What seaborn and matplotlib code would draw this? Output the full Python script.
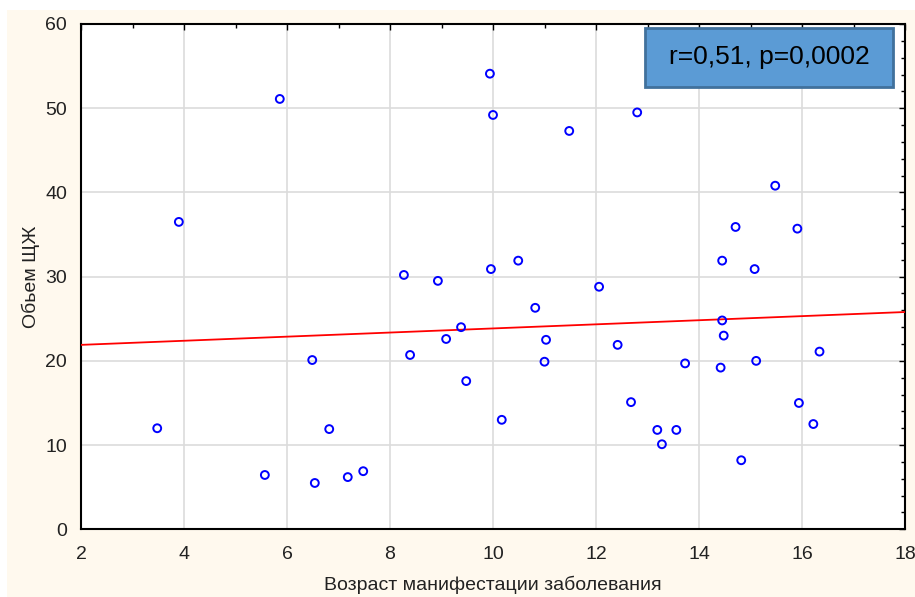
import seaborn as sns
import matplotlib.pyplot as plt
from matplotlib.patches import Rectangle
from matplotlib.ticker import MultipleLocator

# age of disease manifestation vs thyroid volume
age = [3.48, 3.90, 5.86, 5.57, 6.49, 6.54, 6.82, 7.18, 7.48, 8.27,
       8.39, 8.93, 9.09, 9.38, 9.48, 9.94, 10.0, 9.96, 10.17, 10.49,
       10.82, 11.03, 11.0, 11.48, 12.06, 12.42, 12.68, 12.80, 13.19, 13.28,
       13.56, 13.73, 14.42, 14.45, 14.48, 14.45, 14.71, 14.82, 15.08, 15.11,
       15.48, 15.91, 15.94, 16.22, 16.34]
volume = [12.0, 36.5, 51.1, 6.45, 20.1, 5.5, 11.9, 6.2, 6.9, 30.2,
          20.7, 29.5, 22.6, 24.0, 17.6, 54.1, 49.2, 30.9, 13.0, 31.9,
          26.3, 22.5, 19.9, 47.3, 28.8, 21.9, 15.1, 49.5, 11.8, 10.1,
          11.8, 19.7, 19.2, 24.8, 23.0, 31.9, 35.9, 8.2, 30.9, 20.0,
          40.8, 35.7, 15.0, 12.5, 21.1]

# fitted line as drawn in the source
fit_x = [2, 18]
fit_y = [21.9, 25.8]

stat_text = "r=0,51, p=0,0002"
x_label = "Возраст манифестации заболевания"
y_label = "Обьем ЩЖ"

sns.set_style("whitegrid")
plt.rcParams['font.family'] = ['Liberation Sans', 'DejaVu Sans']

fig = plt.figure(figsize=(9.15, 5.97), dpi=100)
fig.patch.set_facecolor('white')
# cream page background
fig.patches.append(Rectangle((7 / 915, 0), 1, 1 - 10 / 597, transform=fig.transFigure,
                             facecolor='#fff9ee', edgecolor='none', zorder=-10))

ax = fig.add_axes([81 / 915, 1 - 529.3 / 597, 824 / 915, 505.3 / 597])
ax.set_facecolor('white')

sns.lineplot(x=fit_x, y=fit_y, color='#ff0000', linewidth=1.3, ax=ax, zorder=3)
sns.scatterplot(x=age, y=volume, marker='o', s=32, facecolor='none',
                edgecolor='#0000ff', linewidth=1.4, ax=ax, zorder=4)

ax.set_xlim(2, 18)
ax.set_ylim(0, 60)
ax.xaxis.set_major_locator(MultipleLocator(2))
ax.xaxis.set_minor_locator(MultipleLocator(1))
ax.yaxis.set_major_locator(MultipleLocator(10))
ax.yaxis.set_minor_locator(MultipleLocator(2))
ax.grid(True, which='major', color='#dcdcdc', linewidth=1.2)
ax.grid(False, which='minor')
ax.tick_params(which='both', direction='in', top=True, right=True, color='black',
               labelsize=14, labelcolor='#222222')
ax.tick_params(which='major', length=4, width=1)
ax.tick_params(which='minor', length=3, width=1)
ax.tick_params(axis='x', pad=12)
ax.tick_params(axis='y', pad=10)
for sp in ax.spines.values():
    sp.set_color('black')
    sp.set_linewidth(1.5)

ax.set_xlabel(x_label, fontsize=14, color='#222222', labelpad=9)
ax.set_ylabel(y_label, fontsize=14, color='#222222', labelpad=4)

# statistics box
ax.add_patch(Rectangle((0.6845, 0.8753), 0.301, 0.1167, transform=ax.transAxes,
                       facecolor='#5b9bd5', edgecolor='#41719c', linewidth=2, zorder=5))
ax.text(0.835, 0.934, stat_text, transform=ax.transAxes, ha='center', va='center',
        fontsize=19, color='black', zorder=6)

plt.savefig('out.png', dpi=100, facecolor=fig.get_facecolor())
